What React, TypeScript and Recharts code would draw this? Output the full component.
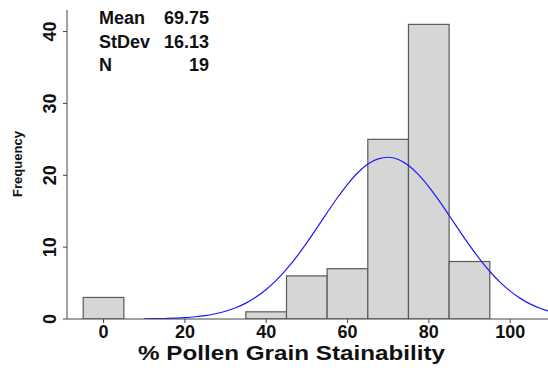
import { ComposedChart, Bar, Line, XAxis, YAxis } from "recharts";

// histogram bins (centre of each 10-wide bin) and counts
const binCentres = [0, 40, 50, 60, 70, 80, 90];
const binCounts = [3, 1, 6, 7, 25, 41, 8];
const BIN_WIDTH = 10;

// fitted normal curve
const curveX = [10, 12.5, 15, 17.5, 20, 22.5, 25, 27.5, 30, 32.5, 35, 37.5, 40, 42.5, 45, 47.5, 50, 52.5, 55, 57.5, 60, 62.5, 65, 67.5, 70, 72.5, 75, 77.5, 80, 82.5, 85, 87.5, 90, 92.5, 95, 97.5, 100, 102.5, 105, 107.5, 110];
const curveY = [0.02, 0.04, 0.07, 0.12, 0.19, 0.31, 0.48, 0.73, 1.08, 1.57, 2.21, 3.05, 4.11, 5.4, 6.94, 8.69, 10.64, 12.71, 14.82, 16.87, 18.75, 20.35, 21.56, 22.29, 22.51, 22.19, 21.35, 20.06, 18.4, 16.47, 14.4, 12.29, 10.24, 8.33, 6.61, 5.13, 3.88, 2.87, 2.07, 1.46, 1.0];

const xTicks = [0, 20, 40, 60, 80, 100];
const yTicks = [0, 10, 20, 30, 40];

const stats = [
  { label: "Mean", value: "69.75" },
  { label: "StDev", value: "16.13" },
  { label: "N", value: "19" },
];

const W = 548, H = 368;
const MARGIN = { top: 10, right: 0, bottom: 0, left: 17 };
const Y_AXIS_W = 50;
const X_AXIS_H = 49;
const X_DOMAIN: [number, number] = [-9, 109.3];
const plotW = W - MARGIN.left - MARGIN.right - Y_AXIS_W;
const pxPerUnit = plotW / (X_DOMAIN[1] - X_DOMAIN[0]);

const FONT = "'Liberation Sans', Arial, Helvetica, sans-serif";

const barData = binCentres.map((c, i) => ({ x: c, count: binCounts[i] }));
const curveData = curveX.map((x, i) => ({ x, density: curveY[i] }));

// recharts centres the bar on its x value; redraw at the full bin width
function HistBar(props: any) {
  const { x, y, width, height } = props;
  const bw = BIN_WIDTH * pxPerUnit;
  const cx = x + width / 2;
  return <rect x={cx - bw / 2} y={y} width={bw} height={height} fill="#d6d6d6" stroke="#5a5a5a" strokeWidth={1.2} />;
}

function YTick({ x, y, payload }: any) {
  const tx = x - 5;
  return (
    <text x={tx} y={y} transform={`rotate(-90, ${tx}, ${y})`} textAnchor="middle"
      fontFamily={FONT} fontWeight="bold" fontSize={18} fill="#111">
      {payload.value}
    </text>
  );
}

function XTick({ x, y, payload }: any) {
  return (
    <text x={x} y={y + 13} textAnchor="middle" fontFamily={FONT} fontWeight="bold" fontSize={18} fill="#111">
      {payload.value}
    </text>
  );
}

export default function App() {
  return (
    <div style={{ position: "absolute", left: 0, top: 0, width: W, height: H, background: "white" }}>
      <ComposedChart width={W} height={H} data={barData} margin={MARGIN}>
        <XAxis type="number" dataKey="x" domain={X_DOMAIN} allowDataOverflow ticks={xTicks}
          height={X_AXIS_H} stroke="#444" tickSize={4} tick={<XTick />} />
        <YAxis type="number" domain={[0, 43]} allowDataOverflow ticks={yTicks}
          width={Y_AXIS_W} stroke="#444" tickSize={4} tick={<YTick />} />
        <Bar dataKey="count" isAnimationActive={false} shape={<HistBar />} />
        <Line data={curveData} dataKey="density" type="monotone" stroke="#1a1aff" strokeWidth={1.2}
          dot={false} activeDot={false} isAnimationActive={false} />
      </ComposedChart>
      <svg width={W} height={H} style={{ position: "absolute", left: 0, top: 0, pointerEvents: "none" }}>
        {stats.map((s, i) => (
          <g key={s.label} fontFamily={FONT} fontWeight="bold" fontSize={18} fill="#111">
            <text x={99} y={24 + i * 23.5}>{s.label}</text>
            <text x={209} y={24 + i * 23.5} textAnchor="end">{s.value}</text>
          </g>
        ))}
        <text x={291.5} y={360} textAnchor="middle" textLength={307} lengthAdjust="spacingAndGlyphs"
          fontFamily={FONT} fontWeight="bold" fontSize={19.5} fill="#111">
          % Pollen Grain Stainability
        </text>
        <text x={22} y={164} transform="rotate(-90, 22, 164)" textAnchor="middle" fontFamily={FONT}
          fontWeight="bold" fontSize={13} fill="#111">
          Frequency
        </text>
      </svg>
    </div>
  );
}
